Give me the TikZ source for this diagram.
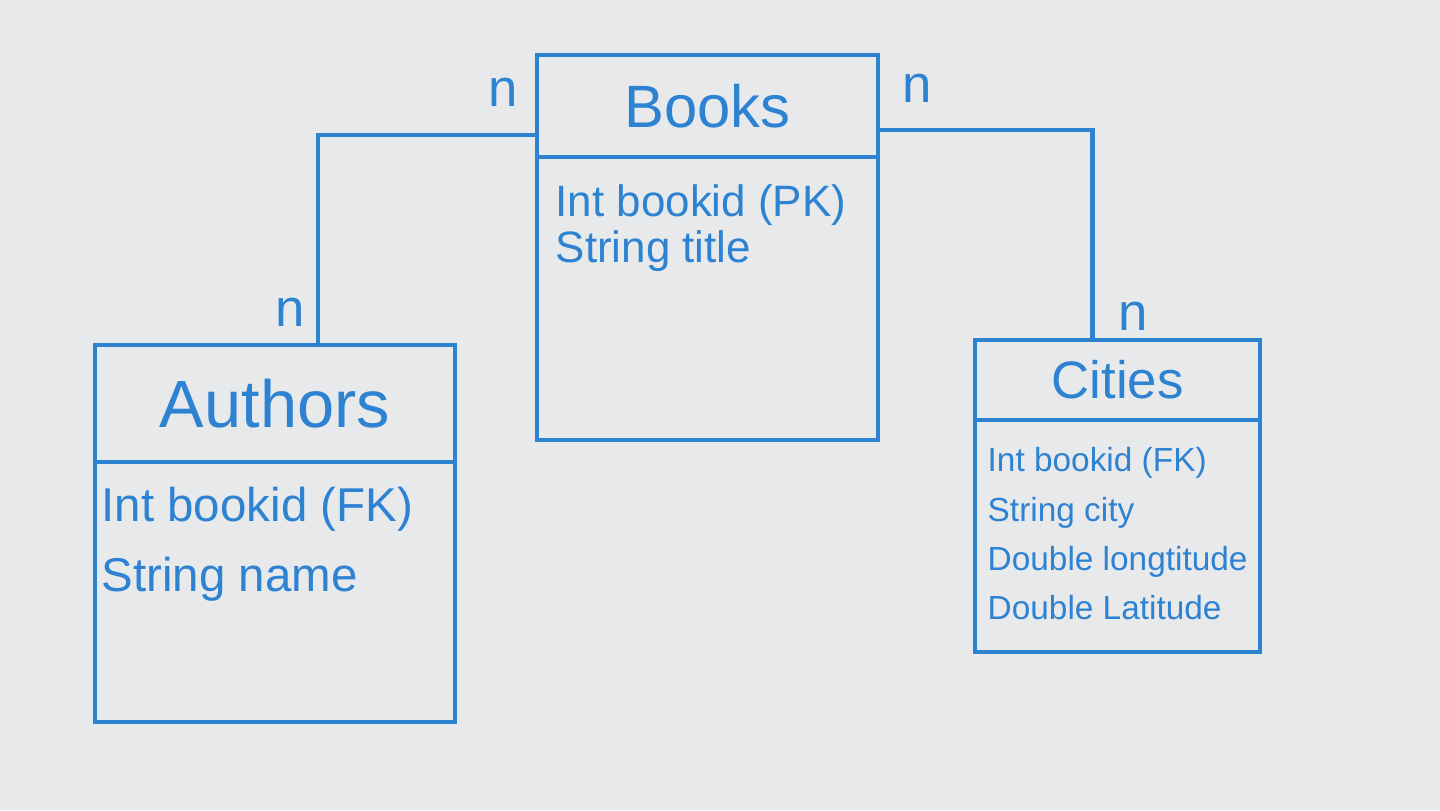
\documentclass[tikz,border=0pt]{standalone}
\usepackage{fontspec}
\setmainfont{Liberation Sans}
\usepackage{xcolor}
\usetikzlibrary{positioning,calc}
\definecolor{markerblue}{HTML}{2D82D2}
\definecolor{boardgrey}{HTML}{E8E9EB}

\tikzset{
  tablehead/.style={draw=markerblue, line width=1.4pt, outer sep=0pt, text=markerblue},
  tablebody/.style={draw=markerblue, line width=1.4pt, outer sep=0pt},
  fieldlist/.style={text=markerblue, align=left, inner sep=0pt, anchor=north west},
  mult/.style={text=markerblue, font=\fontsize{15}{15}\selectfont},
  relation/.style={draw=markerblue, line width=1.4pt}
}

\begin{document}
\begin{tikzpicture}
  \fill[boardgrey] (0,0) rectangle (14.4,-8.1);
  \useasboundingbox (0,0) rectangle (14.4,-8.1);

  % Books
  \node[tablehead, minimum width=3.41cm, minimum height=1.02cm, font=\fontsize{17}{19}\selectfont] (bookshead) at (7.075,-1.06) {Books};
  \node[tablebody, minimum width=3.41cm, minimum height=2.83cm, below=0pt of bookshead] (booksbody) {};
  \node[fieldlist, font=\fontsize{12.5}{13}\selectfont, below right=0.27cm and 0.18cm of booksbody.north west] (booksfields)
    {Int bookid (PK)\\String title};

  % Authors
  \node[tablehead, minimum width=3.6cm, minimum height=1.17cm, font=\fontsize{19}{21}\selectfont] (authorshead) at (2.75,-4.035) {Authors};
  \node[tablebody, minimum width=3.6cm, minimum height=2.6cm, below=0pt of authorshead] (authorsbody) {};
  \node[fieldlist, font=\fontsize{13.5}{20}\selectfont, below right=0.24cm and 0.06cm of authorsbody.north west] (authorsfields)
    {Int bookid (FK)\\String name};

  % Cities
  \node[tablehead, minimum width=2.85cm, minimum height=0.8cm, font=\fontsize{15}{17}\selectfont] (citieshead) at (11.175,-3.8) {Cities};
  \node[tablebody, minimum width=2.85cm, minimum height=2.32cm, below=0pt of citieshead] (citiesbody) {};
  \node[fieldlist, font=\fontsize{9.5}{14}\selectfont, below right=0.27cm and 0.12cm of citiesbody.north west] (citiesfields)
    {Int bookid (FK)\\String city\\Double longtitude\\Double Latitude};

  % relations
  \coordinate (authorsjoin) at ([xshift=0.43cm]authorshead.north);
  \coordinate (citiesjoin) at ([xshift=-0.25cm]citieshead.north);
  \draw[relation] ([yshift=-0.29cm]bookshead.west) -| (authorsjoin);
  \draw[relation] ([yshift=-0.24cm]bookshead.east) -| (citiesjoin);

  \node[mult] (nbooksleft) at (5.03,-0.92) {n};
  \node[mult] (nauthors) at (2.9,-3.12) {n};
  \node[mult] (nbooksright) at (9.17,-0.88) {n};
  \node[mult] (ncities) at (11.33,-3.16) {n};
\end{tikzpicture}
\end{document}
